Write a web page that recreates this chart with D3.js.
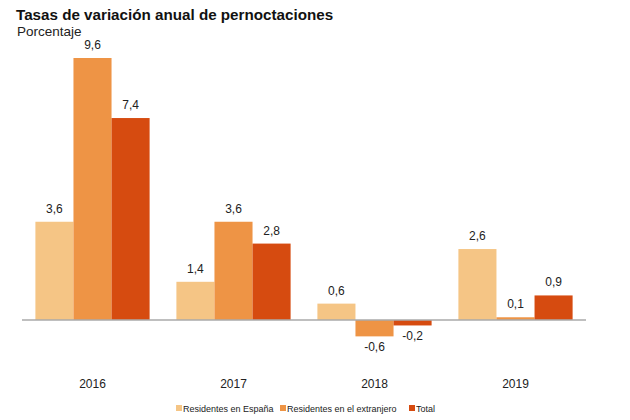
<!DOCTYPE html>
<html><head><meta charset="utf-8">
<script src="https://cdn.jsdelivr.net/npm/d3@7"></script>
<style>body{margin:0;background:#fff;font-family:"Liberation Sans",Arial,sans-serif;}</style>
</head><body><svg id="c" width="630" height="420"></svg>
<script>
const years = ["2016","2017","2018","2019"];
const seriesNames = ["Residentes en España","Residentes en el extranjero","Total"];
const espana = [3.6, 1.4, 0.6, 2.6];
const extranjero = [9.6, 3.6, -0.6, 0.1];
const total = [7.4, 2.8, -0.2, 0.9];
const colors = ["#F5C585","#EE9445","#D64B10"];
const seriesVals = [espana, extranjero, total];

const svg = d3.select("#c");
svg.append("rect").attr("width",630).attr("height",420).attr("fill","#fff");
svg.append("text").attr("x",16).attr("y",20).attr("font-size",15.2).attr("font-weight","bold").attr("fill","#111").text("Tasas de variación anual de pernoctaciones");
svg.append("text").attr("x",17).attr("y",36).attr("font-size",13.5).attr("fill","#222").text("Porcentaje");

const x0 = d3.scaleBand().domain(years).range([22,586]).paddingInner(0.19).paddingOuter(0.095);
const x1 = d3.scaleBand().domain(seriesNames).range([0,x0.bandwidth()]);
const y = d3.scaleLinear().domain([0,9.6]).range([320,58]);
const fmt = v => d3.format(".1f")(v).replace(".",",").replace("\u2212","-");

years.forEach((yr,i)=>{
  const g = svg.append("g").attr("transform",`translate(${x0(yr)},0)`);
  seriesNames.forEach((s,j)=>{
    const v = seriesVals[j][i];
    const top = v>=0 ? y(v) : y(0);
    const h = Math.abs(y(v)-y(0));
    g.append("rect").attr("x",x1(s)).attr("width",x1.bandwidth()).attr("y",top).attr("height",Math.max(h,1)).attr("fill",colors[j]);
    g.append("text").attr("x",x1(s)+x1.bandwidth()/2)
      .attr("y", v>=0 ? y(v)-9 : y(v)+15)
      .attr("text-anchor","middle").attr("font-size",12).attr("fill","#222").text(fmt(v));
  });
  svg.append("text").attr("x",x0(yr)+x0.bandwidth()/2).attr("y",388).attr("text-anchor","middle").attr("font-size",12).attr("fill","#222").text(yr);
});
svg.append("line").attr("x1",22).attr("x2",586).attr("y1",y(0)).attr("y2",y(0)).attr("stroke","#aaa").attr("stroke-width",1.5);

const legX = [176,280,409];
seriesNames.forEach((s,j)=>{
  svg.append("rect").attr("x",legX[j]).attr("y",405).attr("width",6).attr("height",6).attr("fill",colors[j]);
  svg.append("text").attr("x",legX[j]+7).attr("y",411.5).attr("font-size",9).attr("fill","#222").text(s);
});
</script></body></html>
